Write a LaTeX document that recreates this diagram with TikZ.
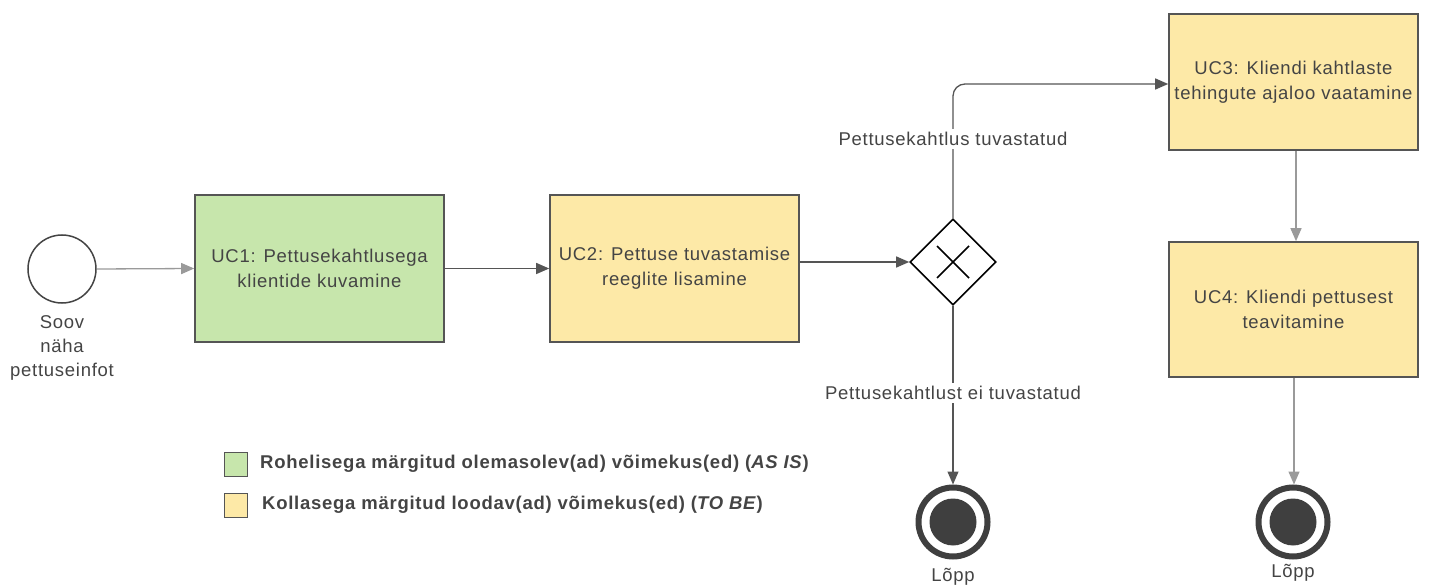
\documentclass[tikz,border=0pt]{standalone}
\usepackage{fontspec}
\setmainfont{Liberation Sans}[LetterSpace=4]
\usetikzlibrary{arrows.meta,shapes.geometric,calc}
\definecolor{txt}{HTML}{444444}
\definecolor{bord}{HTML}{555555}
\definecolor{darkline}{HTML}{555555}
\definecolor{lightline}{HTML}{9A9A9A}
\definecolor{asis}{HTML}{C7E6AC}
\definecolor{tobe}{HTML}{FDE9A7}
\definecolor{endc}{HTML}{3F3F3F}
\tikzset{
  task/.style={draw=bord, line width=1.6pt, minimum width=249pt, minimum height=147pt, align=center, text=txt, font=\fontsize{18.5}{25}\selectfont, inner sep=2pt},
  flowdark/.style={draw=darkline, line width=1.3pt, -{Triangle[length=13pt,width=11pt]}},
  flowlight/.style={draw=lightline, line width=1.3pt, -{Triangle[length=13pt,width=11pt]}},
  lbl/.style={text=txt, font=\fontsize{18.5}{24}\selectfont, align=center},
  legtxt/.style={text=txt, font=\bfseries\fontsize{18.5}{20}\selectfont, anchor=west, inner sep=0pt},
  legbox/.style={draw=bord, line width=1.3pt, minimum width=23pt, minimum height=24pt, inner sep=0pt},
}
\begin{document}
\begin{tikzpicture}[x=1pt,y=-1pt]
\useasboundingbox (0,0) rectangle (1430,585);
% start event
\node[circle, draw=txt, line width=1.5pt, minimum size=68pt, inner sep=0pt] (start) at (62,269) {};
\node[lbl, anchor=north] (startlbl) at (62,312) {Soov\\näha\\pettuseinfot};
% tasks
\node[task, fill=asis] (uc1) at (319.5,268.5) {UC1: Pettusekahtlusega\\klientide kuvamine};
\node[task, fill=tobe] (uc2) at (674.5,268.5) {UC2: Pettuse tuvastamise\\reeglite lisamine};
\node[task, fill=tobe, minimum height=136pt] (uc3) at (1293.5,82) {UC3: Kliendi kahtlaste\\tehingute ajaloo vaatamine};
\node[task, fill=tobe, minimum height=135pt] (uc4) at (1293.5,309.5) {UC4: Kliendi pettusest\\teavitamine};
% gateway
\node[diamond, draw=black, line width=1.6pt, fill=white, minimum width=86pt, minimum height=86pt, inner sep=0pt] (gw) at (953,262) {};
\draw[line width=1.5pt] ($(gw)+(-16,-16)$) -- ($(gw)+(16,16)$) ($(gw)+(-16,16)$) -- ($(gw)+(16,-16)$);
% end events
\node[circle, draw=endc, line width=6pt, minimum size=69pt, inner sep=0pt] (end1) at (953,522) {};
\fill[endc] (end1.center) circle (23.5);
\node[lbl, anchor=north] (end1lbl) at (953,565) {Lõpp};
\node[circle, draw=endc, line width=6pt, minimum size=69pt, inner sep=0pt] (end2) at (1293,522) {};
\fill[endc] (end2.center) circle (23.5);
\node[lbl, anchor=north] (end2lbl) at (1293,561) {Lõpp};
% connectors
\draw[flowlight] (start.east) -- (uc1.west);
\draw[flowdark] (uc1.east) -- (uc2.west);
\draw[flowdark] (uc2.east |- gw.west) -- (gw.west);
\draw[flowdark, rounded corners=12pt] (gw.north) -- (953,84) -- (uc3.west |- 0,84);
\draw[flowdark] (gw.south) -- (end1.north);
\draw[flowlight] (uc3.south -| 1296,0) -- (uc4.north -| 1296,0);
\draw[flowlight] (uc4.south -| 1294,0) -- (end2.north -| 1294,0);
% edge labels
\node[lbl, fill=white, inner sep=3pt] (l1) at (953,139) {Pettusekahtlus tuvastatud};
\node[lbl, fill=white, inner sep=3pt] (l2) at (953,393) {Pettusekahtlust ei tuvastatud};
% legend
\node[legbox, fill=asis] (lg1) at (236,464.5) {};
\node[legtxt] (lt1) at (260,464) {Rohelisega märgitud olemasolev(ad) võimekus(ed) (\textit{AS IS})};
\node[legbox, fill=tobe] (lg2) at (236,505.5) {};
\node[legtxt] (lt2) at (262,505) {Kollasega märgitud loodav(ad) võimekus(ed) (\textit{TO BE})};
\end{tikzpicture}
\end{document}
